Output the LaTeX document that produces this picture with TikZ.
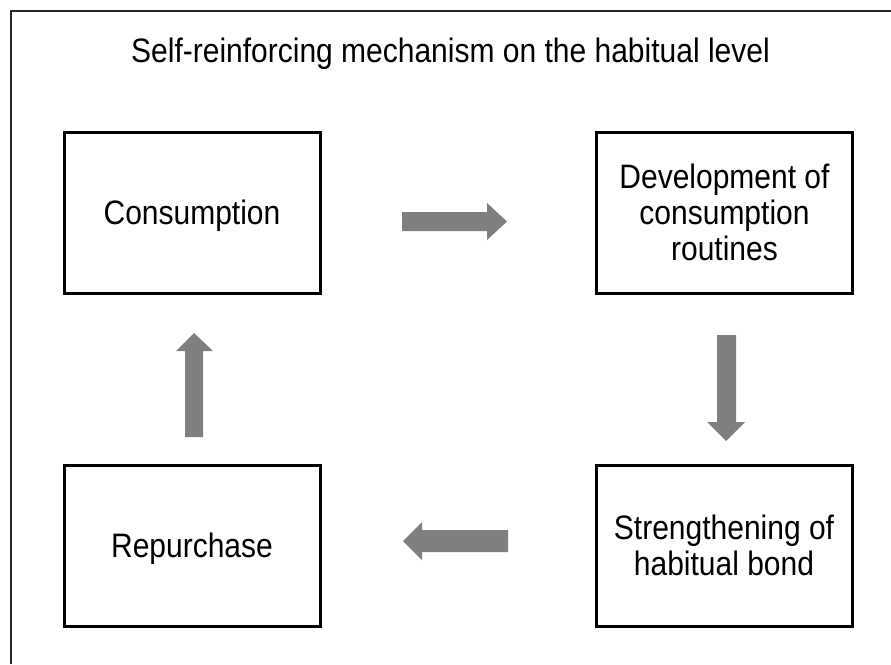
\documentclass[tikz,border=0pt]{standalone}
\usepackage{fontspec}
\usepackage{graphicx}
\setmainfont{Liberation Sans}
\newcommand{\tallText}[1]{\raisebox{-3.5pt}[\height][\depth]{\scalebox{1}[1.13]{\begin{tabular}{@{}c@{}}#1\end{tabular}}}}
\begin{document}
\begin{tikzpicture}[x=0.75pt,y=-0.75pt,
  box/.style={draw=black,line width=2.25pt,minimum width=192pt,minimum height=120.75pt,
    align=center,inner sep=0pt,font=\fontsize{22.5}{24}\selectfont},
  blockarrow/.style={fill=arrowgray,draw=none}]
\definecolor{arrowgray}{HTML}{7F7F7F}
\useasboundingbox (0,0) rectangle (891,664);
\draw[line width=1.5pt,color=black!85] (11,664) -- (11,11) -- (891,11);
\node[anchor=base,inner sep=0pt,font=\fontsize{22.5}{24}\selectfont] (title) at (450.5,62) {\scalebox{1}[1.13]{Self-reinforcing mechanism on the habitual level}};
\node[box] (cons) at (192,212.5) {\tallText{Consumption}};
\node[box] (dev) at (724.5,212.5) {\tallText{Development of\\consumption\\routines}};
\node[box] (str) at (724,546) {\tallText{Strengthening of\\habitual bond}};
\node[box] (rep) at (192,546) {\tallText{Repurchase}};
% right arrow
\fill[blockarrow] (402,212) -- (487,212) -- (487,203) -- (507,221.5) -- (487,240) -- (487,231) -- (402,231) -- cycle;
% down arrow
\fill[blockarrow] (717,335) -- (736,335) -- (736,422) -- (745,422) -- (726,441) -- (707,422) -- (717,422) -- cycle;
% left arrow
\fill[blockarrow] (508,530) -- (422,530) -- (422,522) -- (403,541) -- (422,560) -- (422,552) -- (508,552) -- cycle;
% up arrow
\fill[blockarrow] (185,437) -- (185,351) -- (176,351) -- (194,333) -- (213,351) -- (203,351) -- (203,437) -- cycle;
\end{tikzpicture}
\end{document}
